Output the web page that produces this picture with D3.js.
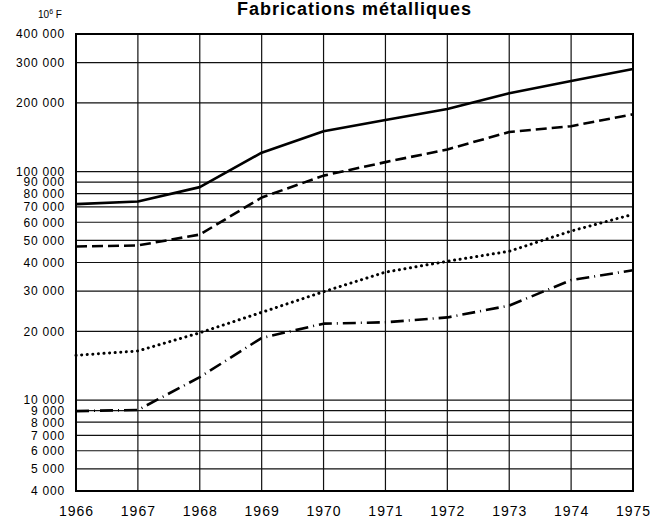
<!DOCTYPE html>
<html>
<head>
<meta charset="utf-8">
<script src="https://cdn.jsdelivr.net/npm/d3@7"></script>
<style>
  body { margin: 0; background: #fff; }
  svg { display: block; font-family: "Liberation Sans", Arial, sans-serif; }
</style>
</head>
<body>
<svg id="chart" width="650" height="520"></svg>
<script>
// Years on the x axis
const years = [1966, 1967, 1968, 1969, 1970, 1971, 1972, 1973, 1974, 1975]

// Series values (10^6 F)
const solidSeries = [72000, 74000, 85500, 121000, 150000, 168000, 188000, 220000, 249000, 281000]
const dashedSeries = [47000, 47500, 53000, 77000, 96000, 110000, 125000, 149000, 158000, 178000]
const dottedSeries = [15700, 16400, 19700, 24200, 29800, 36300, 40500, 44800, 54900, 65000]
const dashDotSeries = [8950, 9050, 12600, 18700, 21600, 21900, 23000, 25900, 33500, 37000]

// Y tick labels and grid lines
const yTicks = [4000, 5000, 6000, 7000, 8000, 9000, 10000, 20000, 30000, 40000, 50000,
  60000, 70000, 80000, 90000, 100000, 200000, 300000, 400000]

const svg = d3.select('#chart')

const x = d3.scaleLinear().domain([1966, 1975]).range([76, 633])
const y = d3.scaleLog().domain([4000, 400000]).range([491, 34])

const fmt = d3.formatLocale({ decimal: ',', thousands: '\u00a0', grouping: [3], currency: ['', ''] }).format(',')

// Title
svg.append('text')
  .attr('x', (x.range()[0] + x.range()[1]) / 2)
  .attr('y', 15)
  .attr('text-anchor', 'middle')
  .attr('font-size', 18)
  .attr('font-weight', 'bold')
  .attr('letter-spacing', 1)
  .text('Fabrications métalliques')

// Unit
const unit = svg.append('text')
  .attr('x', 38)
  .attr('y', 18)
  .attr('font-size', 10)
unit.append('tspan').text('10')
unit.append('tspan').attr('font-size', 7).attr('dy', -4).text('6')
unit.append('tspan').attr('dy', 4).text(' F')

// Horizontal grid
svg.append('g')
  .selectAll('line')
  .data(yTicks.slice(1, -1))
  .join('line')
  .attr('x1', x.range()[0]).attr('x2', x.range()[1])
  .attr('y1', d => y(d)).attr('y2', d => y(d))
  .attr('stroke', '#111')
  .attr('stroke-width', 1.2)

// Vertical grid
svg.append('g')
  .selectAll('line')
  .data(years.slice(1, -1))
  .join('line')
  .attr('x1', d => x(d)).attr('x2', d => x(d))
  .attr('y1', y.range()[1]).attr('y2', y.range()[0])
  .attr('stroke', '#111')
  .attr('stroke-width', 1.2)

// Frame
svg.append('rect')
  .attr('x', x.range()[0]).attr('y', y.range()[1])
  .attr('width', x.range()[1] - x.range()[0])
  .attr('height', y.range()[0] - y.range()[1])
  .attr('fill', 'none')
  .attr('stroke', '#000')
  .attr('stroke-width', 2)

// Y axis labels
const yAxis = svg.append('g')
  .attr('transform', `translate(${x.range()[0]},0)`)
  .call(d3.axisLeft(y).tickValues(yTicks).tickFormat(fmt).tickSize(0).tickPadding(11))
yAxis.select('.domain').remove()
yAxis.selectAll('text')
  .attr('font-size', 12)
  .attr('letter-spacing', 0.8)
  .attr('font-family', '"Liberation Sans", Arial, sans-serif')
  .attr('fill', '#000')

// X axis labels
const xAxis = svg.append('g')
  .attr('transform', `translate(0,${y.range()[0]})`)
  .call(d3.axisBottom(x).tickValues(years).tickFormat(d3.format('d')).tickSize(0).tickPadding(15))
xAxis.select('.domain').remove()
xAxis.selectAll('text')
  .attr('font-size', 14)
  .attr('letter-spacing', 1)
  .attr('font-family', '"Liberation Sans", Arial, sans-serif')
  .attr('fill', '#000')

// Lines
const line = d3.line()
  .x((d, i) => x(years[i]))
  .y(d => y(d))

const series = [
  { values: solidSeries, dash: null, cap: 'butt' },
  { values: dashedSeries, dash: '11,5', cap: 'butt' },
  { values: dottedSeries, dash: '0.1,5.5', cap: 'round' },
  { values: dashDotSeries, dash: '13,5,1,5', cap: 'butt' }
]

svg.append('g')
  .selectAll('path')
  .data(series)
  .join('path')
  .attr('d', d => line(d.values))
  .attr('fill', 'none')
  .attr('stroke', '#000')
  .attr('stroke-width', d => d.cap === 'round' ? 3 : 2.6)
  .attr('stroke-linecap', d => d.cap)
  .attr('stroke-linejoin', 'round')
  .attr('stroke-dasharray', d => d.dash)
</script>
</body>
</html>
